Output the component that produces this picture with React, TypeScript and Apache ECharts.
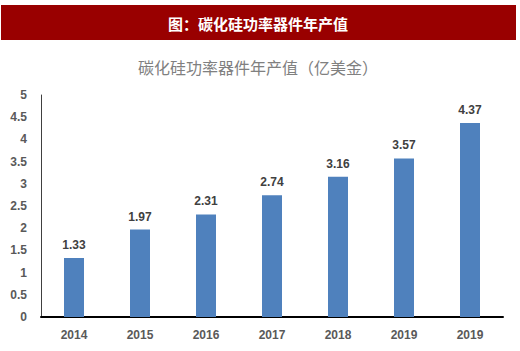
import React, { useEffect, useRef } from "react";
import * as echarts from "echarts";

const categories = ["2014", "2015", "2016", "2017", "2018", "2019", "2019"];
const values = [1.33, 1.97, 2.31, 2.74, 3.16, 3.57, 4.37];
const bannerTitle = "图：碳化硅功率器件年产值";
const chartTitle = "碳化硅功率器件年产值（亿美金）";

const tickFont = "'Liberation Sans', Arial, sans-serif";

export default function App() {
  const ref = useRef<HTMLDivElement>(null);
  useEffect(() => {
    if (!ref.current) return;
    const chart = echarts.init(ref.current, undefined, { renderer: "svg" });
    chart.setOption({
      animation: false,
      backgroundColor: "#ffffff",
      graphic: [
        {
          type: "rect",
          shape: { x: 1, y: 5, width: 515, height: 35 },
          style: { fill: "#990000" },
        },
        {
          type: "text",
          x: 258,
          y: 23,
          style: {
            text: bannerTitle,
            fill: "#ffffff",
            font: "bold 15px 'Noto Sans CJK SC'",
            align: "center",
            verticalAlign: "middle",
          },
        },
        {
          type: "text",
          x: 258,
          y: 67,
          style: {
            text: chartTitle,
            fill: "#808080",
            font: "16px 'Noto Sans CJK SC'",
            align: "center",
            verticalAlign: "middle",
          },
        },
      ],
      grid: { left: 41, right: 17, top: 95, bottom: 34 },
      xAxis: {
        type: "category",
        data: categories,
        axisLine: { lineStyle: { color: "#000000", width: 2 } },
        axisTick: { show: false },
        axisLabel: {
          color: "#595959",
          fontSize: 12,
          fontWeight: "bold",
          fontFamily: tickFont,
          margin: 12,
        },
      },
      yAxis: {
        type: "value",
        min: 0,
        max: 5,
        interval: 0.5,
        splitLine: { show: false },
        axisLine: { show: true, lineStyle: { color: "#404040", width: 1 } },
        axisTick: { show: false },
        axisLabel: {
          color: "#595959",
          fontSize: 12,
          fontWeight: "bold",
          fontFamily: tickFont,
          margin: 14,
        },
      },
      series: [
        {
          type: "bar",
          data: values,
          barWidth: 20,
          itemStyle: { color: "#4F81BD" },
          label: {
            show: true,
            position: "top",
            distance: 7,
            color: "#404040",
            fontSize: 12,
            fontWeight: "bold",
            fontFamily: tickFont,
          },
        },
      ],
    });
    return () => chart.dispose();
  }, []);
  return <div ref={ref} style={{ width: 520, height: 351, position: "fixed", left: 0, top: 0 }} />;
}
